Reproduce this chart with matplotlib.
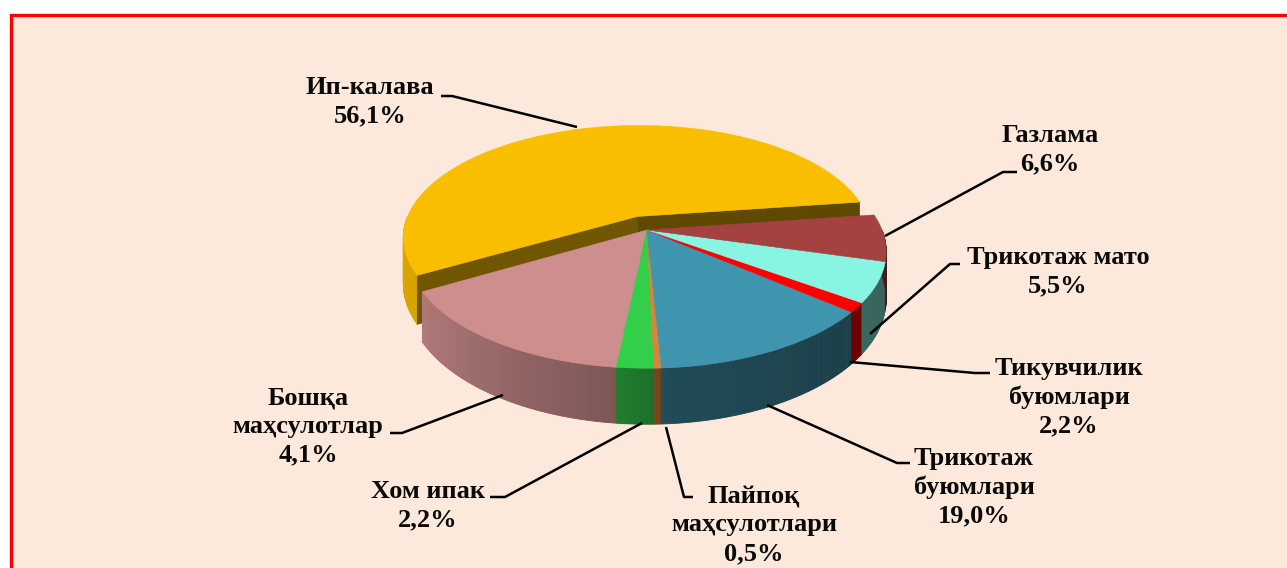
import numpy as np
import matplotlib
matplotlib.use("Agg")
import matplotlib.pyplot as plt
from matplotlib.patches import Polygon, Rectangle

# ---- data ----
categories = ['Ип-калава', 'Бошқа\nмаҳсулотлар', 'Хом ипак', 'Пайпоқ\nмаҳсулотлари',
              'Трикотаж\nбуюмлари', 'Тикувчилик\nбуюмлари', 'Трикотаж мато', 'Газлама']
printed_pct = [56.1, 4.1, 2.2, 0.5, 19.0, 2.2, 5.5, 6.6]          # printed on labels
slice_share = [56.1, 15.0, 2.1, 0.4, 13.1, 1.3, 5.5, 6.5]          # slice sizes as drawn
top_colors = ['#F9BE00', '#CF8E8E', '#33CF4A', '#D8843A', '#4095AE', '#FF0000', '#88F4E2', '#A44242']
explode = [0.13, 0, 0, 0, 0, 0, 0, 0]

# ---- layout / projection (pixel space) ----
W, H = 1287, 568
cx, cy = 647, 230
rx, ry = 235, 112.5
persp = 0.186
thick = 45.6
start_angle = 7.9

fig = plt.figure(figsize=(W / 100, H / 100), dpi=100)
ax = fig.add_axes([0, 0, 1, 1])
ax.set_xlim(0, W)
ax.set_ylim(H, 0)
ax.axis('off')
fig.patch.set_facecolor('white')

bg = '#FCE9DB'
ax.add_patch(Rectangle((10, 14), W, H, facecolor=bg, edgecolor='none', zorder=0))
ax.plot([10.5, 10.5, W + 5], [H + 5, 14.5, 14.5], color='#FF0000', lw=2.4,
        solid_joinstyle='miter', zorder=1)


def proj(X, Y, Z):
    s = 1.0 / (1.0 + persp * Y)
    return cx + rx * X * s, cy - ry * Y * s + thick * (1 - Z) * s


def shade(hexcol, f):
    c = np.array(matplotlib.colors.to_rgb(hexcol))
    return tuple(np.clip(c * f, 0, 1))


def wall_factor(theta):
    t = theta % 360
    return np.interp(t, [170, 210, 265, 275, 320, 370], [0.9, 0.86, 0.6, 0.5, 0.42, 0.40])


total = sum(slice_share)
angles = []
a = start_angle
for v in slice_share:
    b = a + v / total * 360.0
    angles.append((a, b))
    a = b


def draw_slice(i, z0=2):
    a, b = angles[i]
    col = top_colors[i]
    mid = np.radians((a + b) / 2)
    ox, oy = explode[i] * np.cos(mid), explode[i] * np.sin(mid)
    # outer wall pieces facing the viewer (sin < 0)
    th = np.linspace(a, b, max(int((b - a) * 2), 2) + 1)
    for t0, t1 in zip(th[:-1], th[1:]):
        tm = (t0 + t1) / 2
        if np.sin(np.radians(tm)) >= 0:
            continue
        pts = []
        for t, z in [(t0, 1), (t1, 1), (t1, 0), (t0, 0)]:
            r = np.radians(t)
            pts.append(proj(ox + np.cos(r), oy + np.sin(r), z))
        fc = shade(col, wall_factor(tm))
        ax.add_patch(Polygon(pts, closed=True, facecolor=fc, edgecolor=fc, lw=0.6, zorder=z0))
    # radial faces (visible only for the exploded slice)
    if explode[i] > 0:
        for ang, nrm, f in [(a, a - 90, 0.38), (b, b + 90, 0.45)]:
            if np.sin(np.radians(nrm)) < 0:
                r = np.radians(ang)
                pts = [proj(ox, oy, 1), proj(ox + np.cos(r), oy + np.sin(r), 1),
                       proj(ox + np.cos(r), oy + np.sin(r), 0), proj(ox, oy, 0)]
                fc = shade(col, f)
                ax.add_patch(Polygon(pts, closed=True, facecolor=fc, edgecolor=fc, lw=0.5, zorder=z0))
    # top face
    th = np.radians(np.linspace(a, b, 200))
    pts = [proj(ox, oy, 1)] + [proj(ox + np.cos(t), oy + np.sin(t), 1) for t in th]
    ax.add_patch(Polygon(pts, closed=True, facecolor=col, edgecolor=col, lw=0.4, zorder=z0 + 1))


draw_slice(0, z0=2)
for i in range(1, len(slice_share)):
    draw_slice(i, z0=4)

# ---- labels & leaders ----
label_pos = [(370, 102), (308, 426), (428, 506), (754, 525),
             (974, 487), (1069, 397), (1058, 272), (1050, 150)]
leaders = [
    [(441, 96), (452, 96), (577, 127)],
    [(390, 433), (402, 433), (503, 395)],
    [(490, 497), (505, 497), (642, 423)],
    [(666, 427), (684, 497), (693, 497)],
    [(910, 463), (897, 463), (767, 405)],
    [(990, 373), (975, 373), (850, 362)],
    [(960, 264), (950, 264), (870, 334)],
    [(1017, 172), (1003, 172), (885, 236)],
]
for name, pct, (tx, ty), path in zip(categories, printed_pct, label_pos, leaders):
    txt = f"{name}\n{pct:.1f}%".replace('.', ',')
    ax.text(tx, ty, txt, ha='center', va='center', multialignment='center',
            fontsize=19, fontweight='bold', family=['Liberation Serif', 'DejaVu Serif'],
            linespacing=1.3, color='#0a0a0a', zorder=10)
    xs, ys = zip(*path)
    ax.plot(xs, ys, color='black', lw=1.8, zorder=9, solid_capstyle='butt')

fig.savefig('out.png', dpi=100, facecolor='white')
